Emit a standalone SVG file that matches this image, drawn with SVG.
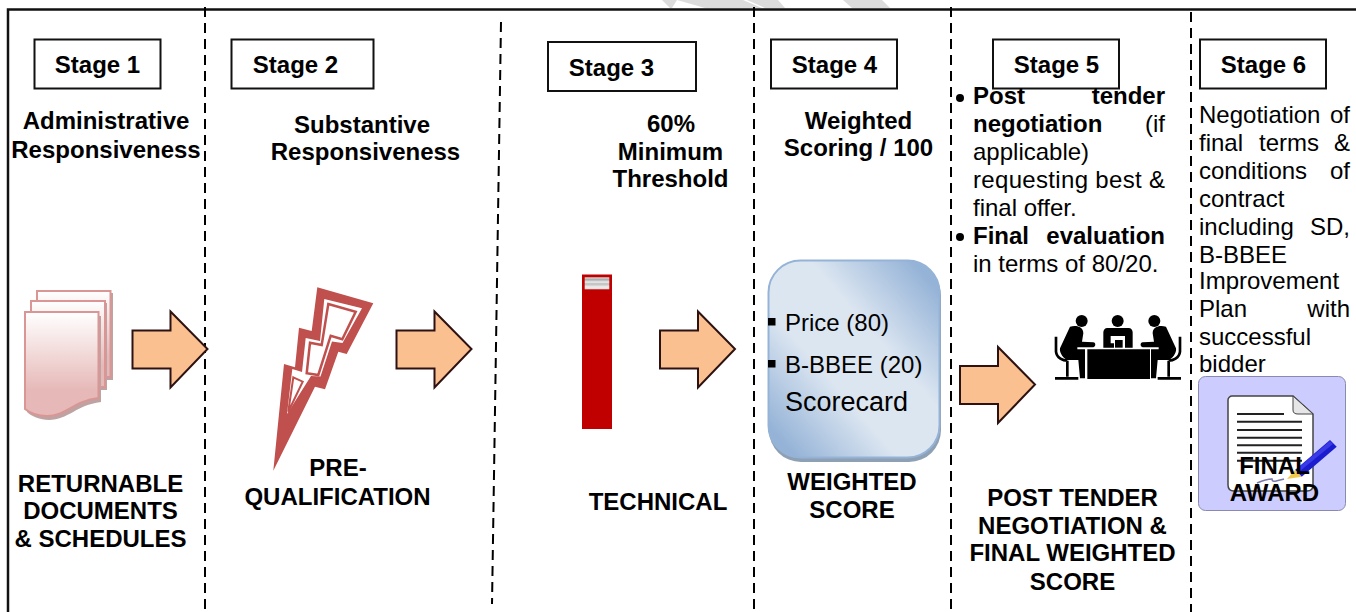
<svg xmlns="http://www.w3.org/2000/svg" width="1356" height="612" viewBox="0 0 1356 612">
<style>
text{font-family:"Liberation Sans",Arial,sans-serif;fill:#000}
.b{font-weight:700;font-size:24px}
.s{font-weight:700;font-size:24px}
.r{font-size:24px}
.e{text-anchor:end}
.box{fill:#fff;stroke:#111;stroke-width:2}
.arrow{fill:#fac090;stroke:#2e1212;stroke-width:2}
.div{stroke:#000;stroke-width:2;stroke-dasharray:10 6;fill:none}
.m{text-anchor:middle}
.page{fill:url(#doc);stroke:#d99694;stroke-width:2}
.shade{fill:#bfa3a3}
.wm{fill:#dcdcdc}
</style>
<defs>
<linearGradient id="doc" x1="0" y1="0" x2="0" y2="1"><stop offset="0" stop-color="#fff"/><stop offset="0.75" stop-color="#e6b9b8"/></linearGradient>
<linearGradient id="card2" x1="0" y1="1" x2="1" y2="0"><stop offset="0.08" stop-color="#95b3d7"/><stop offset="0.38" stop-color="#dce6f1"/><stop offset="0.62" stop-color="#dce6f1"/><stop offset="0.92" stop-color="#95b3d7"/></linearGradient>
<linearGradient id="bar" x1="0" y1="0" x2="0" y2="1"><stop offset="0" stop-color="#ddd"/><stop offset="0.2" stop-color="#aaa"/><stop offset="0.4" stop-color="#eee"/><stop offset="0.55" stop-color="#bbb"/><stop offset="0.8" stop-color="#eee"/><stop offset="1" stop-color="#ddd"/></linearGradient>
<path id="arr" class="arrow" d="M0 0H38V-19L75 18.500 38 57V38H0Z"/>
<path id="person" d="M60 50C80 45 100 50 100 70L96 95 130 97C138 98 138 110 130 112H82V118H105V205H90L85 150H50C35 140 28 125 30 115Z"/>
<path id="chair" d="M18 80V125C20 145 40 152 52 152M52 152V200M15 205H85" fill="none" stroke="#000" stroke-width="8"/>
</defs>
<rect width="1356" height="612" fill="#fff"/>
<g id="watermark">
<path class="wm" d="M662 0H677L672 8H670Z"/>
<path class="wm" d="M677 0H743L762 8H705Z"/>
<path class="wm" d="M747 0H778L785 8H765Z"/>
<path class="wm" d="M843 0H882L890 8H852Z"/>
</g>

<g id="connectors">
<path d="M8 612V9.500H1356" fill="none" stroke="#111" stroke-width="2.500"/>
<path class="div" d="M205 7V612"/>
<path class="div" d="M501 22 L492 604"/>
<path class="div" d="M754 7V612"/>
<path class="div" d="M951 7V612"/>
<path class="div" d="M1191 12V612"/>
<use href="#arr" x="132.500" y="330.500"/>
<use href="#arr" x="396.500" y="330.500"/>
<use href="#arr" x="660" y="330.500"/>
<use href="#arr" x="960" y="366"/>
</g>

<g id="stage1">
<rect class="box" x="34.500" y="39.500" width="126" height="49"/>
<text class="s m" x="97.500" y="73">Stage 1</text>
<text class="b m" x="106" y="129">Administrative</text>
<text class="b m" x="106" y="158">Responsiveness</text>
<path class="shade" d="M39 293H113V380H39Z"/>
<path class="page" d="M37 291H110.500V377H37Z"/>
<path class="shade" d="M33 303H107V390H33Z"/>
<path class="page" d="M31 301H105V387H31Z"/>
<path class="shade" d="M27 316H101V402C76 405 68 420 49 420 40 420 31 416 27 412Z"/>
<path class="page" d="M25 312H98.500V398C73 401 66 416 47 416 38 416 30 413 25 409Z"/>
<text class="b m" x="100.500" y="492">RETURNABLE</text>
<text class="b m" x="100.500" y="519">DOCUMENTS</text>
<text class="b m" x="100.500" y="547">&amp; SCHEDULES</text>
</g>

<g id="stage2">
<rect class="box" x="231.500" y="39.500" width="142" height="49"/>
<text class="s m" x="295.500" y="73">Stage 2</text>
<text class="b m" x="362" y="133">Substantive</text>
<text class="b m" x="365.500" y="160">Responsiveness</text>
<path d="M317.300 287.300L373.300 303.300 346.700 354 338.300 351.700 325 389.300 315 386.700 273.300 470.700 284 364 295 367.300 299 327.700 311.700 331Z" fill="#c0504d"/>
<path d="M324.300 299L362 308.300 342.500 343 332 341.500 320.500 376.500 311 376 287 414 292.300 369 302 372 305.700 338 320 341Z" fill="#fff"/>
<path d="M328.300 304L355.700 311.700 342.300 339.300 330.700 335.700 318.300 375 306.700 373.300 310 342.700 321.700 345Z" fill="#fff" stroke="#c0504d" stroke-width="2.500"/>
<path d="M293.300 377.300L302.700 381.700 288.300 411.700Z" fill="#fff" stroke="#c0504d" stroke-width="2"/>
<text class="b m" x="338" y="476">PRE-</text>
<text class="b m" x="337.500" y="505">QUALIFICATION</text>
</g>

<g id="stage3">
<rect class="box" x="548" y="42" width="148" height="49"/>
<text class="s m" x="611.500" y="76">Stage 3</text>
<text class="b m" x="671" y="132">60%</text>
<text class="b m" x="670.500" y="160">Minimum</text>
<text class="b m" x="670.500" y="187">Threshold</text>
<rect x="582" y="274.500" width="30" height="154.500" fill="#c00000"/>
<rect x="584.700" y="277.300" width="24.600" height="12" fill="url(#bar)"/>
<text class="b m" x="658" y="509.500">TECHNICAL</text>
</g>

<g id="stage4">
<rect class="box" x="771" y="39.500" width="126" height="49"/>
<text class="s m" x="834.500" y="73">Stage 4</text>
<text class="b m" x="858.500" y="129">Weighted</text>
<text class="b m" x="858.500" y="156">Scoring / 100</text>
<rect x="769" y="264" width="172" height="198" rx="32" fill="#8ea0b4"/>
<rect x="768.500" y="260.500" width="171" height="197" rx="32" fill="url(#card2)" stroke="#95b3d7" stroke-width="2"/>
<rect x="768" y="318" width="7.500" height="7.500" fill="#000"/>
<rect x="768" y="360" width="7.500" height="7.500" fill="#000"/>
<text class="r" x="785" y="331">Price (80)</text>
<text class="r" x="785" y="373">B-BBEE (20)</text>
<text x="785" y="411" font-size="27">Scorecard</text>
<text class="b m" x="852" y="490">WEIGHTED</text>
<text class="b m" x="852" y="518">SCORE</text>
</g>

<g id="stage5">
<rect class="box" x="993" y="39.500" width="126" height="49"/>
<text class="s m" x="1056.500" y="73">Stage 5</text>
<circle cx="960" cy="98" r="4"/>
<text class="b" x="973" y="104">Post</text><text class="b e" x="1165" y="104">tender</text>
<text class="b" x="973" y="132">negotiation</text><text class="r e" x="1165" y="132">(if</text>
<text class="r" x="973" y="160">applicable)</text>
<text class="r" x="973" y="188" textLength="192">requesting best &amp;</text>
<text class="r" x="973" y="216">final offer.</text>
<circle cx="960" cy="237" r="4"/>
<text class="b" x="973" y="244">Final</text><text class="b e" x="1165" y="244">evaluation</text>
<text class="r" x="973" y="272">in terms of 80/20.</text>
<g id="meeting-icon" transform="translate(1050 310) scale(.33333)">
<circle cx="95" cy="33" r="18"/><circle cx="203" cy="33" r="18"/><circle cx="313" cy="33" r="18"/>
<path d="M112 118H300V207H112Z"/>
<path d="M172 54H236C243 54 248 60 248 67V113H225V78H182V100H192V113H160V67C160 60 165 54 172 54Z"/>
<path d="M195 90H218V113H195Z"/>
<use href="#person"/><use href="#chair"/>
<g transform="translate(408 0) scale(-1 1)"><use href="#person"/><use href="#chair"/></g>
</g>
<text class="b m" x="1072.500" y="506">POST TENDER</text>
<text class="b m" x="1072.500" y="534">NEGOTIATION &amp;</text>
<text class="b m" x="1072.500" y="561">FINAL WEIGHTED</text>
<text class="b m" x="1072.500" y="590">SCORE</text>
</g>

<g id="stage6">
<rect class="box" x="1200" y="39.500" width="126" height="49"/>
<text class="s m" x="1263.500" y="73">Stage 6</text>
<text class="r" x="1199" y="123">Negotiation</text><text class="r e" x="1350" y="123">of</text>
<text class="r" x="1199" y="150.500">final</text><text class="r" x="1259" y="150.500">terms</text><text class="r e" x="1350" y="150.500">&amp;</text>
<text class="r" x="1199" y="178.500">conditions</text><text class="r e" x="1350" y="178.500">of</text>
<text class="r" x="1199" y="206.500">contract</text>
<text class="r" x="1199" y="234.500">including</text><text class="r e" x="1350" y="234.500">SD,</text>
<text class="r" x="1199" y="262.500">B-BBEE</text>
<text class="r" x="1199" y="288.500">Improvement</text>
<text class="r" x="1199" y="316.500">Plan</text><text class="r e" x="1350" y="316.500">with</text>
<text class="r" x="1199" y="344.500">successful</text>
<text class="r" x="1199" y="372">bidder</text>
<rect x="1198.500" y="376.500" width="147" height="134" rx="7" fill="#ccf" stroke="#8a8ab0"/>
<path d="M1232 396H1293L1313 414V485C1313 489 1311 491 1307 491H1234C1230 491 1228 489 1228 485V400C1228 398 1230 396 1232 396Z" fill="#fff" stroke="#444" stroke-width="1.500"/>
<path d="M1293 396V410C1293 413 1295 414 1298 414H1313Z" fill="#e6e6e6" stroke="#444" stroke-width="1"/>
<path d="M1237 414H1284M1237 421.700H1302M1237 430H1302M1237 437.700H1302M1237 445.300H1302M1237 452.700H1302M1237 460.700H1302" stroke="#222" stroke-width="2" fill="none"/>
<path d="M1295 470L1330 440 1336.700 446.700 1301.700 476.700Z" fill="#1b1bd0"/>
<path d="M1298 468L1330 441 1333 444 1300 471Z" fill="#3a3ae6"/>
<path d="M1287 479L1295 470 1301.700 476.700Z" fill="#f2c94c"/>
<path d="M1257 483C1264 480 1268 479 1272 479 1272 483 1276 481 1284 479" fill="none" stroke="#7777aa" stroke-width="1.500"/>
<text class="b m" x="1274.500" y="473.500">FINAL</text>
<text class="b m" x="1274.500" y="501">AWARD</text>
</g>
</svg>
